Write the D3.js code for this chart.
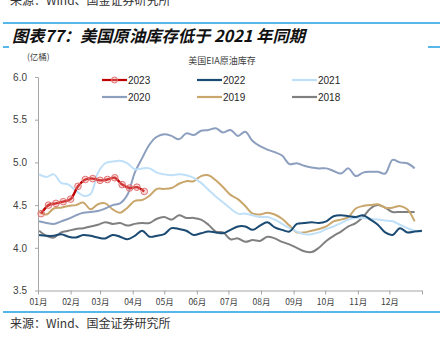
<!DOCTYPE html>
<html><head><meta charset="utf-8">
<script src="https://cdn.jsdelivr.net/npm/d3@7"></script>
<style>
html,body{margin:0;padding:0;background:#fff;}
svg{display:block;}
</style></head>
<body>
<svg id="c" width="440" height="343"></svg>
<script>
// ---- data ----
const monthLabels = ["01月","02月","03月","04月","05月","06月","07月","08月","09月","10月","11月","12月"];
const yTicks = [3.5, 4.0, 4.5, 5.0, 5.5, 6.0];
const years = ["2023","2022","2021","2020","2019","2018"];
const startDay = {"2023": 3, "2022": 1, "2021": 1, "2020": 1, "2019": 1, "2018": 1};
const v2023 = [4.40,4.50,4.52,4.54,4.57,4.72,4.80,4.81,4.79,4.80,4.82,4.74,4.70,4.71,4.66];
const v2022 = [4.15,4.14,4.14,4.16,4.13,4.12,4.15,4.14,4.12,4.11,4.15,4.13,4.10,4.14,4.20,4.13,4.14,4.16,4.23,4.22,4.20,4.15,4.17,4.19,4.18,4.17,4.21,4.25,4.25,4.21,4.26,4.30,4.24,4.21,4.19,4.28,4.29,4.30,4.29,4.31,4.37,4.38,4.37,4.36,4.38,4.33,4.27,4.18,4.15,4.23,4.18,4.19,4.20];
const v2021 = [4.86,4.83,4.86,4.76,4.74,4.67,4.61,4.63,4.88,4.99,5.01,5.02,4.99,4.92,4.93,4.93,4.88,4.86,4.85,4.86,4.85,4.82,4.76,4.68,4.60,4.53,4.46,4.40,4.40,4.38,4.36,4.36,4.33,4.28,4.23,4.19,4.16,4.16,4.18,4.22,4.25,4.29,4.33,4.35,4.35,4.34,4.33,4.32,4.31,4.27,4.23,4.20,4.19];
const v2020 = [4.31,4.29,4.28,4.31,4.34,4.38,4.41,4.42,4.43,4.46,4.50,4.52,4.62,4.88,5.05,5.21,5.30,5.33,5.31,5.27,5.34,5.32,5.37,5.38,5.40,5.35,5.38,5.31,5.36,5.25,5.19,5.15,5.12,5.08,4.98,4.99,4.96,4.94,4.93,4.93,4.90,4.87,4.93,4.84,4.88,4.89,4.89,4.87,5.03,5.00,4.99,4.93];
const v2019 = [4.42,4.39,4.46,4.47,4.49,4.50,4.53,4.45,4.51,4.52,4.45,4.41,4.47,4.55,4.56,4.61,4.69,4.69,4.70,4.75,4.78,4.78,4.84,4.85,4.79,4.71,4.62,4.57,4.49,4.40,4.39,4.41,4.39,4.34,4.26,4.18,4.18,4.20,4.22,4.25,4.31,4.33,4.36,4.46,4.49,4.50,4.51,4.47,4.47,4.49,4.45,4.31];
const v2018 = [4.20,4.14,4.12,4.18,4.20,4.22,4.23,4.25,4.27,4.30,4.28,4.29,4.26,4.28,4.29,4.29,4.34,4.36,4.33,4.38,4.35,4.35,4.33,4.27,4.19,4.18,4.10,4.11,4.07,4.09,4.08,4.13,4.11,4.07,4.04,4.00,3.96,3.95,4.00,4.08,4.14,4.19,4.25,4.29,4.36,4.46,4.50,4.47,4.42,4.42,4.42,4.42];
const seriesValues = {"2023": v2023, "2022": v2022, "2021": v2021, "2020": v2020, "2019": v2019, "2018": v2018};

// ---- styles ----
const colors = {"2023":"#c00000","2022":"#1b4a72","2021":"#bfe0f8","2020":"#8c9fbf","2019":"#c9a66b","2018":"#808080"};
const svg = d3.select("#c");
const CJK = "'Noto Sans CJK SC','Noto Sans',sans-serif";
const LAT = "'Liberation Sans',Arial,sans-serif";

// header / footer decorations
svg.append("text").attr("x",10).attr("y",5).attr("font-family",CJK).attr("font-size",12).attr("fill","#333")
  .text("来源：Wind、国金证券研究所");
svg.append("line").attr("x1",3).attr("x2",440).attr("y1",23).attr("y2",23).attr("stroke","#1e9fe0").attr("stroke-width",1.5);
svg.append("text").attr("x",12).attr("y",42).attr("font-family",CJK).attr("font-size",16.3).attr("font-weight","bold")
  .attr("font-style","italic").attr("fill","#111").text("图表77：美国原油库存低于 2021 年同期");
svg.append("line").attr("x1",3).attr("x2",9).attr("y1",47).attr("y2",47).attr("stroke","#1e9fe0").attr("stroke-width",1.5);
svg.append("line").attr("x1",428).attr("x2",440).attr("y1",47).attr("y2",47).attr("stroke","#1e9fe0").attr("stroke-width",1.5);
svg.append("text").attr("x",27).attr("y",60).attr("font-family",CJK).attr("font-size",8.5).attr("fill","#404040").text("(亿桶)");
svg.append("text").attr("x",222).attr("y",64).attr("text-anchor","middle").attr("font-family",CJK).attr("font-size",9).attr("fill","#404040").text("美国EIA原油库存");
svg.append("line").attr("x1",3).attr("x2",440).attr("y1",312).attr("y2",312).attr("stroke","#1e9fe0").attr("stroke-width",1.5);
svg.append("text").attr("x",10).attr("y",328).attr("font-family",CJK).attr("font-size",12).attr("fill","#333")
  .text("来源：Wind、国金证券研究所");

// ---- scales ----
const x = d3.scaleTime().domain([new Date(2023,0,1), new Date(2024,0,1)]).range([38,422]);
const y = d3.scaleLinear().domain([3.5,6.0]).range([290.5,77]);
const dateOf = (yr,k) => new Date(2023,0,1+startDay[yr]+7*k);

// axes
const months = d3.range(12).map(m => new Date(2023,m,1)).concat([new Date(2024,0,1)]);
const xAxis = d3.axisBottom(x).tickValues(months).tickSize(4).tickSizeOuter(0)
  .tickFormat((d,i) => i < 12 ? monthLabels[i] : "");
const gx = svg.append("g").attr("transform","translate(0,290.5)").call(xAxis);
gx.selectAll("text").attr("font-family",CJK).attr("font-size",8.5).attr("fill","#404040").attr("dy","0.9em");
gx.selectAll("line,path").attr("stroke","#a6a6a6");

const yAxis = d3.axisLeft(y).tickValues(yTicks).tickFormat(d3.format(".1f")).tickSize(3).tickSizeOuter(0);
const gy = svg.append("g").attr("transform","translate(38,0)").call(yAxis);
gy.selectAll("text").attr("font-family",LAT).attr("font-size",10).attr("fill","#404040").attr("dx","-5");
gy.selectAll("line,path").attr("stroke","#a6a6a6");

// lines
const line = d3.line().x(d => x(d.date)).y(d => y(d.v)).curve(d3.curveCatmullRom.alpha(0.5));
const drawOrder = ["2018","2019","2020","2021","2022","2023"];
drawOrder.forEach(yr => {
  const pts = seriesValues[yr].map((v,k) => ({date: dateOf(yr,k), v}));
  svg.append("path").datum(pts).attr("d",line).attr("fill","none")
    .attr("stroke",colors[yr]).attr("stroke-width", yr==="2023" ? 2.4 : 2).attr("stroke-linejoin","round");
  if (yr === "2023") {
    svg.append("g").selectAll("circle").data(pts).join("circle")
      .attr("cx",d=>x(d.date)).attr("cy",d=>y(d.v)).attr("r",3.3)
      .attr("fill","rgba(240,150,150,0.35)").attr("stroke","#e07070").attr("stroke-width",1);
  }
});

// legend
const legendPos = [
  {yr:"2023", x:102, y:80}, {yr:"2022", x:197, y:80}, {yr:"2021", x:292, y:80},
  {yr:"2020", x:102, y:97}, {yr:"2019", x:197, y:97}, {yr:"2018", x:292, y:97}
];
const lg = svg.append("g");
legendPos.forEach(p => {
  lg.append("line").attr("x1",p.x).attr("x2",p.x+25).attr("y1",p.y).attr("y2",p.y)
    .attr("stroke",colors[p.yr]).attr("stroke-width",2.2);
  if (p.yr === "2023") {
    lg.append("circle").attr("cx",p.x+12.5).attr("cy",p.y).attr("r",3)
      .attr("fill","rgba(240,150,150,0.35)").attr("stroke","#e07070").attr("stroke-width",1);
  }
  lg.append("text").attr("x",p.x+26).attr("y",p.y+3.6).attr("font-family",LAT).attr("font-size",10)
    .attr("fill","#262626").text(p.yr);
});
</script>
</body></html>
